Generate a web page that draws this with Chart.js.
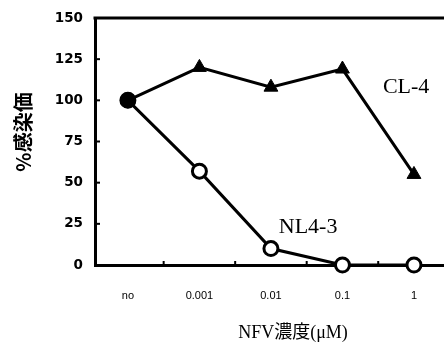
<!DOCTYPE html>
<html><head><meta charset="utf-8">
<script src="https://cdn.jsdelivr.net/npm/chart.js@4"></script>
<style>html,body{margin:0;padding:0;background:#fff}#wrap{width:444px;height:343px}</style>
</head><body><div id="wrap"><canvas id="c" width="444" height="343"></canvas></div>
<script>
const categories = ['no', '0.001', '0.01', '0.1', '1'];
const cl4Values = [100, 120, 108, 119, 55];
const nl43Values = [100, 57, 10, 0, 0];
const yTickValues = [0, 25, 50, 75, 100, 125, 150];
const seriesNames = ['CL-4', 'NL4-3'];
const xTitle = 'NFV濃度(μM)';
const yTitle = '%感染価';

const toPoints = vals => vals.map((v, i) => ({ x: i, y: v }));

const decor = {
  id: 'decor',
  afterDraw(chart) {
    const { ctx, chartArea: a, scales: { x, y } } = chart;
    ctx.save();
    ctx.strokeStyle = '#000';
    ctx.fillStyle = '#000';
    // top frame line
    ctx.lineWidth = 3;
    ctx.beginPath(); ctx.moveTo(a.left - 1.5, a.top); ctx.lineTo(a.right, a.top); ctx.stroke();
    // inward y ticks
    ctx.lineWidth = 2;
    yTickValues.slice(1, -1).forEach(v => {
      const py = y.getPixelForValue(v);
      ctx.beginPath(); ctx.moveTo(a.left, py); ctx.lineTo(a.left + 5, py); ctx.stroke();
    });
    // inward x ticks between categories
    for (let i = 0; i < categories.length - 1; i++) {
      const px = x.getPixelForValue(i + 0.5);
      ctx.beginPath(); ctx.moveTo(px, a.bottom); ctx.lineTo(px, a.bottom - 4); ctx.stroke();
    }
    // series labels
    ctx.font = '22px "Liberation Serif"';
    ctx.textAlign = 'center'; ctx.textBaseline = 'middle';
    ctx.fillText(seriesNames[0], x.getPixelForValue(3.89), y.getPixelForValue(108));
    ctx.fillText(seriesNames[1], x.getPixelForValue(2.52), y.getPixelForValue(23));
    // axis titles
    ctx.font = '18px "Liberation Serif", "Noto Sans CJK JP"';
    ctx.fillText(xTitle, 293, 333);
    ctx.translate(23, 132); ctx.rotate(-Math.PI / 2);
    ctx.font = 'bold 20px "Noto Sans CJK JP"';
    ctx.fillText(yTitle, 0, 0);
    ctx.restore();
  }
};

new Chart(document.getElementById('c'), {
  type: 'line',
  data: {
    datasets: [
      { label: seriesNames[0], data: toPoints(cl4Values), borderColor: '#000', borderWidth: 3,
        pointStyle: ['circle', 'triangle', 'triangle', 'triangle', 'triangle'],
        pointRadius: [7.5, 8, 8, 8, 8], pointBackgroundColor: '#000', pointBorderColor: '#000',
        pointBorderWidth: 1, clip: false },
      { label: seriesNames[1], data: toPoints(nl43Values), borderColor: '#000', borderWidth: 3,
        pointStyle: 'circle', pointRadius: 7, pointBackgroundColor: '#fff', pointBorderColor: '#000',
        pointBorderWidth: 3, clip: false }
    ]
  },
  options: {
    responsive: false, animation: false,
    layout: { autoPadding: false, padding: { top: 18, right: 0, left: 0, bottom: 0 } },
    plugins: { legend: { display: false }, tooltip: { enabled: false } },
    scales: {
      x: {
        type: 'linear', min: -0.46, max: 4.42,
        afterBuildTicks: s => { s.ticks = categories.map((c, i) => ({ value: i })); },
        ticks: { callback: v => categories[v], font: { size: 11, family: 'Liberation Sans' }, color: '#000',
                 padding: 24, autoSkip: false, maxRotation: 0 },
        grid: { drawOnChartArea: false, drawTicks: false },
        border: { color: '#000', width: 3 },
        afterFit: s => { s.height = 78; s.paddingLeft = 0; s.paddingRight = 0; }
      },
      y: {
        min: 0, max: 150,
        afterBuildTicks: s => { s.ticks = yTickValues.map(v => ({ value: v })); },
        ticks: { font: { size: 13.5, weight: 'bold', family: 'DejaVu Sans' }, color: '#000', padding: 12 },
        grid: { drawOnChartArea: false, drawTicks: false },
        border: { color: '#000', width: 3 },
        afterFit: s => { s.width = 95; s.paddingTop = 0; s.paddingBottom = 0; }
      }
    }
  },
  plugins: [decor]
});
</script></body></html>
